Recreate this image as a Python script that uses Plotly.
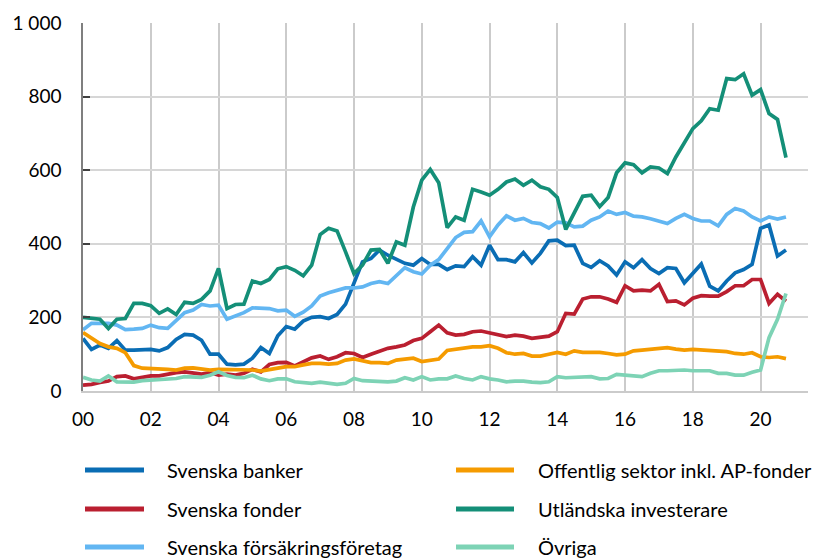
import plotly.graph_objects as go

quarters = [2000 + i / 4 for i in range(84)]

svenska_banker = [
    143, 113, 125, 116, 137, 111, 111, 112, 113, 109, 118, 140,
    154, 152, 138, 100, 100, 73, 71, 73, 89, 118, 102, 150,
    175, 168, 190, 200, 202, 197, 208, 236, 292, 351, 360, 383,
    369, 357, 347, 342, 360, 344, 344, 330, 340, 338, 365, 342,
    396, 357, 357, 351, 376, 348, 374, 408, 410, 395, 396, 347,
    336, 354, 340, 315, 351, 335, 357, 333, 319, 335, 333, 294,
    319, 345, 285, 272, 299, 321, 330, 344, 442, 451, 367, 383,
]
svenska_fonder = [
    16, 18, 23, 27, 39, 41, 33, 36, 41, 41, 46, 50,
    52, 50, 46, 50, 43, 46, 43, 48, 59, 52, 72, 77,
    78, 68, 78, 90, 95, 86, 93, 104, 102, 91, 100, 109,
    116, 120, 125, 137, 143, 161, 179, 158, 152, 154, 161, 163,
    158, 152, 148, 152, 149, 143, 146, 149, 161, 211, 209, 250,
    256, 256, 250, 241, 286, 272, 274, 272, 290, 243, 245, 234,
    252, 259, 258, 258, 270, 286, 286, 303, 303, 238, 263, 244,
]
svenska_forsakring = [
    166, 184, 184, 184, 179, 167, 168, 170, 179, 172, 170, 193,
    213, 220, 235, 231, 233, 195, 204, 213, 226, 224, 224, 218,
    220, 203, 214, 231, 258, 267, 274, 280, 280, 283, 292, 297,
    292, 312, 335, 324, 318, 342, 357, 387, 417, 431, 433, 462,
    419, 451, 476, 464, 469, 458, 455, 443, 459, 457, 446, 448,
    464, 473, 489, 480, 485, 475, 473, 468, 462, 455, 469, 480,
    469, 462, 462, 449, 480, 496, 489, 473, 462, 473, 467, 473,
]
offentlig_sektor = [
    159, 143, 129, 120, 116, 104, 69, 62, 61, 62, 59, 57,
    62, 63, 59, 57, 59, 59, 59, 59, 57, 54, 57, 62,
    66, 66, 71, 75, 75, 73, 75, 84, 87, 82, 77, 77,
    75, 84, 87, 89, 80, 84, 87, 110, 114, 116, 120, 120,
    123, 116, 104, 100, 102, 95, 95, 100, 105, 100, 109, 105,
    105, 105, 102, 98, 100, 109, 111, 113, 116, 118, 114, 111,
    113, 111, 111, 109, 107, 102, 100, 104, 93, 91, 93, 88,
]
utlandska = [
    200, 198, 195, 170, 195, 197, 238, 238, 232, 211, 223, 208,
    241, 238, 249, 272, 333, 224, 235, 236, 299, 292, 303, 332,
    338, 328, 313, 342, 425, 442, 435, 378, 319, 342, 383, 385,
    347, 405, 396, 500, 573, 602, 566, 444, 473, 464, 548, 541,
    532, 548, 568, 576, 559, 573, 555, 548, 526, 439, 482, 529,
    532, 501, 526, 593, 620, 615, 593, 609, 606, 591, 636, 677,
    713, 734, 767, 763, 849, 846, 862, 804, 819, 754, 738, 634,
]
ovriga = [
    37, 30, 27, 41, 25, 25, 24, 28, 30, 30, 32, 34,
    39, 39, 37, 43, 52, 42, 37, 36, 43, 33, 28, 33,
    33, 25, 22, 21, 24, 21, 18, 21, 34, 28, 27, 25,
    25, 27, 36, 30, 39, 30, 33, 33, 41, 34, 30, 39,
    33, 30, 25, 27, 27, 24, 23, 25, 39, 36, 37, 39,
    39, 33, 34, 45, 43, 43, 39, 48, 55, 55, 57, 57,
    55, 55, 55, 48, 48, 43, 43, 51, 57, 145, 195, 265,
]

series_names = [
    "Svenska banker", "Svenska fonder", "Svenska försäkringsföretag",
    "Offentlig sektor inkl. AP-fonder", "Utländska investerare", "Övriga",
]
series_values = [svenska_banker, svenska_fonder, svenska_forsakring,
                 offentlig_sektor, utlandska, ovriga]
series_colors = ["#0A6DB4", "#BA1F30", "#62B6F2", "#F59B00", "#148F78", "#7DD3B5"]

x_tickvals = [2000, 2002, 2004, 2006, 2008, 2010, 2012, 2014, 2016, 2018, 2020]
x_ticktext = ["00", "02", "04", "06", "08", "10", "12", "14", "16", "18", "20"]
y_tickvals = [0, 200, 400, 600, 800, 1000]
y_ticktext = ["0", "200", "400", "600", "800", "1 000"]

FONT = "Lato"
OFF = 8  # page body margin in the browser
W, H = 831 - OFF, 558 - OFF
L, R, T = 83 - OFF, 23, 23 - OFF
B = H - (391 - OFF)
PW, PH = W - L - R, H - T - B


def px_x(p):  # screen pixel -> paper x
    return (p - OFF - L) / PW


def px_y(p):  # screen pixel -> paper y
    return (H - B - (p - OFF)) / PH


fig = go.Figure()
for name, vals, col in zip(series_names, series_values, series_colors):
    fig.add_trace(go.Scatter(
        x=quarters, y=vals, name=name, mode="lines",
        line=dict(color=col, width=3.7), showlegend=False,
    ))

# two-column legend (line sample + text)
col_line_x = [(85, 144), (456, 514)]
col_text_x = [165, 536]
row_y = [470, 509, 547]
shapes, annotations = [], []
for i, (name, col) in enumerate(zip(series_names, series_colors)):
    c, r = divmod(i, 3)
    x0, x1 = col_line_x[c]
    yy = px_y(row_y[r])
    shapes.append(dict(type="line", xref="paper", yref="paper",
                       x0=px_x(x0), x1=px_x(x1), y0=yy, y1=yy,
                       line=dict(color=col, width=5)))
    annotations.append(dict(text=name, xref="paper", yref="paper",
                            x=px_x(col_text_x[c]), y=yy,
                            xanchor="left", yanchor="middle", showarrow=False,
                            font=dict(family=FONT, size=20, color="#000000")))

fig.update_layout(
    width=W, height=H,
    margin=dict(l=L, r=R, t=T, b=B, autoexpand=False),
    plot_bgcolor="white", paper_bgcolor="white",
    font=dict(family=FONT, size=19, color="#000000"),
    showlegend=False,
    shapes=shapes, annotations=annotations,
    xaxis=dict(
        range=[2000, 2021.4], tickvals=x_tickvals, ticktext=x_ticktext,
        showgrid=True, gridcolor="#CBCBCB", gridwidth=1.5,
        showline=True, linecolor="#CBCBCB", linewidth=1.5,
        ticks="outside", ticklen=10, tickcolor="rgba(0,0,0,0)",
        zeroline=False,
        tickfont=dict(family=FONT, size=19),
    ),
    yaxis=dict(
        range=[0, 1000], tickvals=y_tickvals, ticktext=y_ticktext,
        showgrid=True, gridcolor="#D6D6D6", gridwidth=1.5,
        showline=True, linecolor="#7F7F7F", linewidth=1.5,
        ticks="inside", ticklen=7, tickcolor="#404040", tickwidth=1.5,
        zeroline=False, ticklabelstandoff=16,
        tickfont=dict(family=FONT, size=19),
    ),
)
fig.write_html("out.html")
